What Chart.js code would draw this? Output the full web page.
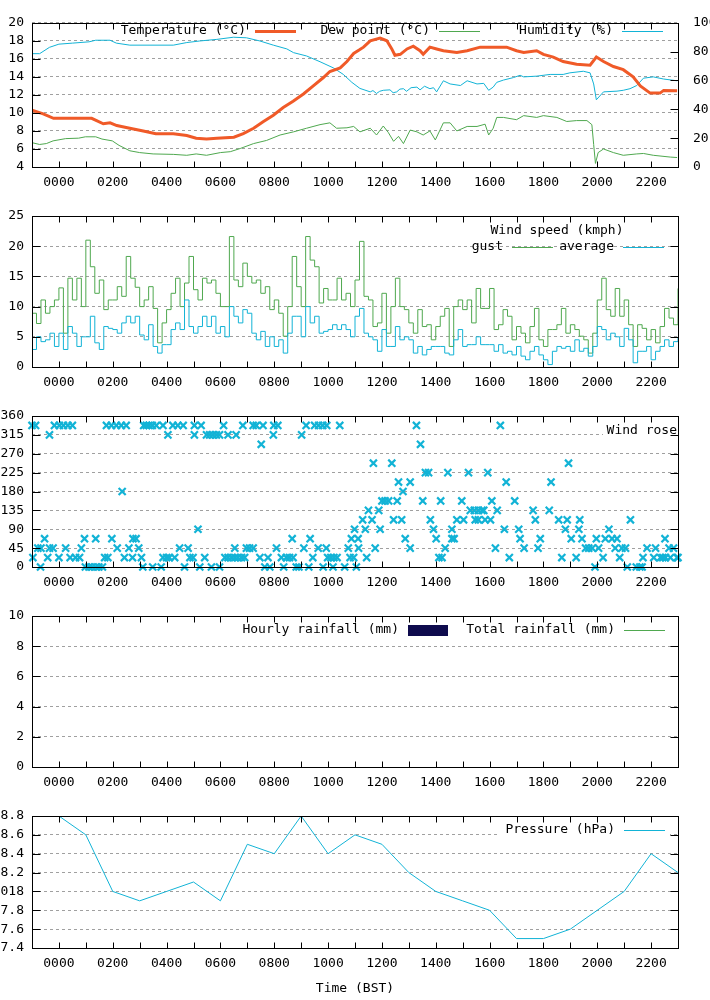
<!DOCTYPE html>
<html>
<head>
<meta charset="utf-8">
<script src="https://cdn.jsdelivr.net/npm/chart.js@4.4.1/dist/chart.umd.min.js"></script>
<style>
  body { margin: 0; background: #fff; }
  #wrap { position: relative; width: 710px; height: 1000px; overflow: hidden; }
  #wrap canvas { position: absolute; left: 0; }
</style>
</head>
<body>
<div id="wrap">
  <canvas id="tempChart" width="710" height="200" style="top:0px"></canvas>
  <canvas id="windChart" width="710" height="200" style="top:200px"></canvas>
  <canvas id="roseChart" width="710" height="200" style="top:400px"></canvas>
  <canvas id="rainChart" width="710" height="200" style="top:600px"></canvas>
  <canvas id="pressChart" width="710" height="200" style="top:800px"></canvas>
</div>
<script>
// time is in minutes from 00:00 BST; the plots start at 23:00 the day before
const hourTicks = [0, 120, 240, 360, 480, 600, 720, 840, 960, 1080, 1200, 1320];
const hourLabels = ["0000", "0200", "0400", "0600", "0800", "1000", "1200", "1400", "1600", "1800", "2000", "2200"];
const xTickMinutes = [0, 60, 120, 180, 240, 300, 360, 420, 480, 540, 600, 660, 720, 780, 840, 900, 960, 1020, 1080, 1140, 1200, 1260, 1320];

// [minute, °C]
const temperature = [
  [-60, 10.3], [-35, 9.9], [-12, 9.4], [73, 9.4], [99, 8.8], [114, 8.9], [129, 8.6], [158, 8.3], [188, 8.0], [216, 7.7],
  [255, 7.7], [285, 7.5], [306, 7.2], [329, 7.1], [352, 7.2], [390, 7.3], [411, 7.7], [434, 8.3], [456, 9.05], [478, 9.75],
  [500, 10.6], [522, 11.3], [545, 12.1], [567, 13.0], [589, 13.9], [604, 14.6], [627, 15.0], [642, 15.7], [657, 16.6], [670, 17.0],
  [679, 17.3], [694, 18.0], [716, 18.3], [731, 18.0], [742, 17.1], [749, 16.4], [761, 16.5], [776, 17.1], [790, 17.4], [805, 16.9],
  [812, 16.5], [827, 17.3], [842, 17.1], [857, 16.9], [887, 16.7], [910, 16.9], [939, 17.3], [968, 17.3], [998, 17.3], [1020, 16.9],
  [1036, 16.7], [1065, 16.9], [1080, 16.5], [1102, 16.2], [1124, 15.7], [1154, 15.4], [1184, 15.3], [1198, 16.2], [1214, 15.7], [1236, 15.15],
  [1258, 14.8], [1280, 14.0], [1296, 13.0], [1318, 12.2], [1340, 12.2], [1348, 12.5], [1378, 12.45]
];

// [minute, °C]
const dewPoint = [
  [-60, 6.7], [-43, 6.5], [-28, 6.6], [-13, 6.9], [15, 7.15], [44, 7.2], [59, 7.35], [82, 7.35], [96, 7.1], [119, 6.9],
  [134, 6.4], [158, 5.8], [180, 5.6], [210, 5.45], [255, 5.4], [285, 5.3], [306, 5.45], [329, 5.3], [360, 5.6], [382, 5.7],
  [404, 6.05], [434, 6.6], [463, 6.95], [493, 7.55], [523, 7.9], [552, 8.3], [582, 8.7], [604, 8.9], [619, 8.3], [642, 8.35],
  [657, 8.5], [671, 7.9], [694, 8.3], [708, 7.55], [723, 8.55], [734, 7.85], [746, 6.85], [757, 7.4], [768, 6.6], [783, 8.1],
  [798, 7.9], [812, 7.55], [827, 8.0], [839, 7.0], [857, 8.9], [872, 8.9], [887, 8.0], [910, 8.5], [932, 8.5], [950, 8.75],
  [958, 7.55], [968, 8.3], [976, 9.5], [991, 9.5], [1020, 9.25], [1036, 9.7], [1065, 9.5], [1080, 9.7], [1110, 9.5], [1132, 9.05],
  [1154, 9.15], [1177, 9.15], [1188, 8.7], [1192, 6.5], [1196, 4.4], [1202, 5.6], [1214, 6.0], [1236, 5.6], [1258, 5.3], [1288, 5.45],
  [1303, 5.5], [1325, 5.3], [1363, 5.1], [1378, 5.05]
];

// [minute, %]
const humidity = [
  [-60, 78.6], [-43, 78.6], [-21, 83], [0, 85.2], [30, 85.9], [67, 86.8], [82, 87.9], [114, 87.9], [128, 85.9], [158, 84.5],
  [255, 84.5], [285, 86.3], [314, 87.4], [352, 88.5], [389, 90], [418, 89.6], [448, 87.4], [478, 84.5], [508, 81.9], [523, 79.3],
  [552, 77], [582, 73], [612, 68.7], [634, 64.2], [653, 58.7], [671, 54.5], [694, 52.1], [700, 53], [708, 51], [715, 52.5],
  [723, 53.2], [738, 53.5], [745, 51.5], [753, 52.1], [760, 54], [768, 54.3], [775, 52.5], [785, 55], [798, 55.4], [805, 53.5],
  [815, 56], [827, 54.3], [835, 55], [842, 52.1], [857, 59.8], [872, 57.6], [895, 56.5], [910, 59.8], [932, 57.6], [947, 58],
  [958, 53.2], [968, 55.4], [976, 58.7], [991, 60.3], [1013, 62], [1028, 63.6], [1036, 62.5], [1065, 63], [1095, 64.2], [1124, 64.2],
  [1139, 65.3], [1169, 66.4], [1184, 65.3], [1192, 57.6], [1198, 46.6], [1214, 52.1], [1244, 52.6], [1258, 53.2], [1273, 54.3], [1288, 56.5],
  [1303, 61.6], [1325, 62.5], [1348, 61], [1378, 59.8]
];

// wind samples every 10 minutes
const windMinutes = [
  -60, -50, -40, -30, -20, -10, 0, 10, 20, 30, 40, 50,
  60, 70, 80, 90, 100, 110, 120, 130, 140, 150, 160, 170,
  180, 190, 200, 210, 220, 230, 240, 250, 260, 270, 280, 290,
  300, 310, 320, 330, 340, 350, 360, 370, 380, 390, 400, 410,
  420, 430, 440, 450, 460, 470, 480, 490, 500, 510, 520, 530,
  540, 550, 560, 570, 580, 590, 600, 610, 620, 630, 640, 650,
  660, 670, 680, 690, 700, 710, 720, 730, 740, 750, 760, 770,
  780, 790, 800, 810, 820, 830, 840, 850, 860, 870, 880, 890,
  900, 910, 920, 930, 940, 950, 960, 970, 980, 990, 1000, 1010,
  1020, 1030, 1040, 1050, 1060, 1070, 1080, 1090, 1100, 1110, 1120, 1130,
  1140, 1150, 1160, 1170, 1180, 1190, 1200, 1210, 1220, 1230, 1240, 1250,
  1260, 1270, 1280, 1290, 1300, 1310, 1320, 1330, 1340, 1350, 1360, 1370,
  1380
];
const windGust = [
  8.9, 7.2, 11.1, 8.9, 10.0, 11.1, 13.1, 5.6, 14.7, 11.1, 14.7, 10.0,
  21.0, 16.6, 12.2, 14.4, 9.5, 11.1, 11.1, 13.3, 11.7, 18.3, 14.7, 13.2,
  10.0, 11.1, 13.3, 9.7, 4.0, 7.3, 9.5, 12.2, 14.7, 10.0, 13.9, 18.3,
  12.8, 11.1, 14.7, 13.9, 14.4, 12.2, 10.0, 10.0, 21.6, 14.4, 13.3, 17.2,
  15.0, 13.9, 14.4, 12.2, 13.3, 9.5, 11.1, 8.9, 5.1, 10.0, 18.3, 13.3,
  10.0, 21.6, 17.7, 16.6, 10.6, 13.0, 11.1, 11.1, 14.7, 11.1, 12.2, 10.0,
  14.4, 20.8, 11.7, 11.1, 6.7, 7.3, 12.2, 5.6, 10.0, 14.7, 10.0, 9.5,
  7.3, 5.6, 9.5, 6.7, 7.0, 4.5, 6.7, 8.4, 9.7, 3.4, 10.0, 11.1,
  9.5, 11.1, 7.3, 13.0, 9.7, 9.7, 13.0, 6.2, 7.0, 9.5, 8.4, 4.5,
  6.7, 5.6, 4.0, 6.7, 9.7, 4.5, 3.4, 6.2, 6.2, 7.0, 9.7, 5.6,
  7.0, 6.2, 5.1, 4.5, 2.3, 5.6, 11.1, 14.7, 9.5, 8.4, 13.0, 8.4,
  11.1, 7.0, 3.4, 7.0, 6.4, 4.5, 6.2, 4.0, 6.7, 9.7, 8.1, 7.0,
  13.0
];
const windAverage = [
  2.9, 5.0, 4.2, 4.5, 5.6, 3.4, 5.6, 2.9, 6.7, 5.6, 3.4, 5.0,
  5.0, 8.4, 4.0, 2.9, 6.7, 6.4, 6.2, 5.6, 7.3, 8.4, 7.3, 8.4,
  5.3, 4.5, 7.0, 3.4, 2.3, 3.7, 3.7, 6.2, 7.3, 6.2, 11.1, 6.7,
  5.6, 6.7, 8.4, 6.7, 8.4, 5.6, 6.7, 5.0, 10.0, 8.4, 7.3, 9.5,
  8.9, 5.6, 4.5, 5.9, 3.4, 5.0, 3.4, 4.5, 2.3, 5.6, 8.4, 8.4,
  5.0, 10.0, 7.3, 8.4, 5.6, 5.9, 6.2, 7.0, 6.2, 7.0, 6.2, 5.0,
  8.4, 9.7, 5.6, 5.0, 4.5, 2.6, 6.2, 3.4, 3.4, 6.7, 4.5, 5.0,
  4.5, 2.3, 3.4, 2.0, 2.9, 3.4, 3.4, 3.4, 2.3, 2.0, 4.5, 6.2,
  3.4, 3.7, 3.7, 5.0, 3.7, 3.7, 3.7, 2.6, 3.7, 2.3, 2.6, 2.0,
  3.4, 1.8, 1.2, 2.6, 3.4, 2.0, 1.2, 0.4, 2.6, 3.4, 3.1, 3.4,
  2.6, 4.5, 2.6, 3.1, 1.8, 3.4, 6.7, 6.2, 4.5, 5.6, 5.0, 3.4,
  6.4, 4.5, 0.7, 2.6, 2.6, 3.4, 1.2, 2.6, 3.4, 4.5, 3.4, 4.2,
  5.0
];

// [minute, direction in degrees]
const windRose = [
  [-60, 337.5], [-52, 337.5], [-58, 22.5], [-47, 45], [-40, 45], [-41, 0], [-32, 67.5], [-25, 22.5], [-21, 315], [-21, 45],
  [-13, 45], [-10, 337.5], [1, 337.5], [0, 22.5], [10, 337.5], [15, 45], [20, 337.5], [25, 22.5], [30, 337.5], [37, 22.5],
  [46, 22.5], [50, 45], [57, 67.5], [59, 0], [67, 0], [74, 0], [82, 0], [89, 0], [97, 0], [82, 67.5],
  [102, 22.5], [106, 337.5], [117, 337.5], [128, 337.5], [139, 337.5], [150, 337.5], [109, 22.5], [118, 67.5], [130, 45], [141, 180],
  [146, 22.5], [156, 45], [164, 22.5], [165, 67.5], [172, 67.5], [178, 45], [184, 22.5], [187, 0], [189, 337.5], [195, 337.5],
  [201, 337.5], [208, 337.5], [217, 337.5], [232, 337.5], [209, 0], [228, 0], [232, 22.5], [240, 22.5], [246, 22.5], [243, 315],
  [254, 337.5], [265, 337.5], [277, 337.5], [258, 22.5], [269, 45], [280, 0], [288, 45], [292, 22.5], [299, 22.5], [302, 337.5],
  [302, 315], [310, 90], [314, 0], [317, 337.5], [325, 22.5], [329, 315], [336, 315], [343, 315], [351, 315], [358, 315],
  [340, 0], [358, 0], [367, 337.5], [370, 22.5], [377, 22.5], [385, 22.5], [392, 22.5], [399, 22.5], [407, 22.5], [414, 22.5],
  [377, 315], [392, 45], [395, 315], [410, 337.5], [418, 45], [425, 45], [433, 45], [433, 337.5], [440, 337.5], [455, 337.5],
  [451, 292.5], [448, 22.5], [459, 0], [466, 22.5], [470, 0], [478, 315], [479, 337.5], [488, 337.5], [485, 45], [496, 22.5],
  [501, 0], [507, 22.5], [514, 22.5], [522, 22.5], [520, 67.5], [529, 0], [535, 0], [541, 315], [546, 45], [551, 337.5],
  [557, 0], [560, 67.5], [566, 22.5], [570, 337.5], [579, 337.5], [588, 337.5], [597, 337.5], [578, 45], [589, 0], [596, 45],
  [599, 22.5], [606, 22.5], [613, 22.5], [620, 22.5], [611, 0], [626, 337.5], [637, 0], [645, 45], [649, 22.5], [652, 67.5],
  [659, 90], [663, 0], [667, 67.5], [657, 22.5], [668, 45], [677, 112.5], [683, 90], [686, 22.5], [690, 135], [698, 112.5],
  [701, 247.5], [705, 45], [713, 135], [716, 90], [720, 157.5], [727, 157.5], [735, 157.5], [742, 247.5], [746, 112.5], [754, 157.5],
  [757, 202.5], [764, 112.5], [767, 180], [772, 67.5], [783, 45], [783, 202.5], [797, 337.5], [806, 292.5], [811, 157.5], [817, 225],
  [824, 225], [828, 112.5], [835, 90], [841, 67.5], [847, 22.5], [851, 157.5], [854, 22.5], [861, 45], [867, 225], [876, 90],
  [876, 67.5], [881, 67.5], [887, 112.5], [898, 157.5], [902, 112.5], [913, 225], [917, 135], [926, 135], [928, 112.5], [935, 135],
  [935, 112.5], [943, 135], [947, 135], [950, 112.5], [956, 225], [962, 112.5], [965, 157.5], [973, 45], [977, 135], [984, 337.5],
  [993, 90], [997, 202.5], [1004, 22.5], [1016, 157.5], [1025, 90], [1028, 67.5], [1037, 45], [1057, 135], [1062, 112.5], [1068, 45],
  [1073, 67.5], [1093, 135], [1097, 202.5], [1114, 112.5], [1121, 22.5], [1129, 90], [1133, 112.5], [1136, 247.5], [1142, 67.5], [1153, 22.5],
  [1159, 90], [1161, 112.5], [1166, 67.5], [1174, 45], [1181, 45], [1189, 45], [1195, 0], [1198, 67.5], [1203, 45], [1213, 22.5],
  [1218, 67.5], [1226, 90], [1233, 67.5], [1240, 45], [1244, 67.5], [1250, 22.5], [1255, 45], [1263, 45], [1267, 0], [1274, 112.5],
  [1287, 0], [1295, 0], [1300, 0], [1302, 22.5], [1311, 45], [1326, 22.5], [1330, 45], [1341, 22.5], [1346, 22.5], [1351, 67.5],
  [1352, 22.5], [1360, 45], [1363, 22.5], [1370, 45], [1378, 22.5], [1380, 22.5]
];

// no rain fell
const rainHourly = [];
const rainTotal = [];

const pressureMinutes = [0, 60, 120, 180, 240, 300, 360, 420, 480, 540, 600, 660, 720, 780, 840, 900, 960, 1020, 1080, 1140, 1200, 1260, 1320, 1380];
const pressure = [1018.8, 1018.6, 1018.0, 1017.9, 1018.0, 1018.1, 1017.9, 1018.5, 1018.4, 1018.8, 1018.4, 1018.6,
                  1018.5, 1018.2, 1018.0, 1017.9, 1017.8, 1017.5, 1017.5, 1017.6, 1017.8, 1018.0, 1018.4, 1018.2];
const pressureTicks = [1017.4, 1017.6, 1017.8, 1018.0, 1018.2, 1018.4, 1018.6, 1018.8];
const pressureTickLabels = ["7.4", "7.6", "7.8", "018", "8.2", "8.4", "8.6", "8.8"];

const ORANGE = "#f05a28";
const GREEN = "#4fa84f";
const CYAN = "#12b3d6";
const NAVY = "#0e0b4d";
const GRID = "#a0a0a0";
const FONT = "13px 'DejaVu Sans Mono'";

Chart.defaults.font.family = "'DejaVu Sans Mono', monospace";
Chart.defaults.font.size = 13;
Chart.defaults.color = "#000";

const pairs = (rows) => rows.map(([x, y]) => ({ x, y }));

function xAxis(height, title) {
  return {
    type: "linear",
    position: "bottom",
    min: -60,
    max: 1380,
    grid: { display: false, drawTicks: false },
    border: { display: false },
    afterBuildTicks: (s) => { s.ticks = hourTicks.map((v) => ({ value: v })); },
    afterFit: (s) => { s.height = height; },
    ticks: { padding: 8, maxRotation: 0, autoSkip: false, callback: (v, i) => hourLabels[i] },
    title: title ? { display: true, text: title, padding: { top: 0, bottom: 4 } } : { display: false },
  };
}

function yAxis(min, max, step, extra = {}) {
  return Object.assign({
    type: "linear",
    position: "left",
    min, max,
    grid: { color: GRID, drawTicks: false },
    border: { display: false, dash: [3, 3] },
    afterFit: (s) => { s.width = 32; },
    ticks: { stepSize: step, padding: 8, autoSkip: false },
  }, extra);
}

// gnuplot-like frame: inward tick marks, black border and an opaque key
const framePlugin = {
  id: "frame",
  beforeDatasetsDraw(chart, args, opts) {
    if (!opts.keyBox) return;
    const ctx = chart.ctx;
    ctx.save();
    ctx.fillStyle = "#fff";
    ctx.fillRect(...opts.keyBox);
    ctx.restore();
  },
  afterDatasetsDraw(chart, args, opts) {
    const { ctx, chartArea: a, scales } = chart;
    const L = Math.round(a.left) + 0.5, R = Math.round(a.right) + 0.5;
    const T = Math.round(a.top) + 0.5, B = Math.round(a.bottom) + 0.5;
    ctx.save();
    ctx.strokeStyle = "#000";
    ctx.lineWidth = 1;
    ctx.beginPath();
    xTickMinutes.forEach((m) => {
      const px = Math.round(scales.x.getPixelForValue(m)) + 0.5;
      ctx.moveTo(px, B); ctx.lineTo(px, B - 6);
      ctx.moveTo(px, T); ctx.lineTo(px, T + 6);
    });
    scales.y.ticks.forEach((t) => {
      const py = Math.round(scales.y.getPixelForValue(t.value)) + 0.5;
      ctx.moveTo(L, py); ctx.lineTo(L + 8, py);
      if (!scales.y2) { ctx.moveTo(R, py); ctx.lineTo(R - 8, py); }
    });
    if (scales.y2) {
      scales.y2.ticks.forEach((t) => {
        const py = Math.round(scales.y2.getPixelForValue(t.value)) + 0.5;
        ctx.moveTo(R, py); ctx.lineTo(R - 8, py);
      });
    }
    ctx.stroke();
    ctx.strokeRect(L, T, R - L, B - T);

    ctx.font = FONT;
    ctx.textBaseline = "middle";
    if (opts.title) {
      ctx.fillStyle = "#000";
      ctx.textAlign = "center";
      ctx.fillText(opts.title.text, opts.title.x, opts.title.y);
    }
    (opts.items || []).forEach((it) => {
      ctx.fillStyle = "#000";
      ctx.textAlign = "right";
      ctx.fillText(it.text, it.sx - 9, it.y);
      if (it.kind === "line") {
        ctx.strokeStyle = it.color;
        ctx.lineWidth = it.lw || 1;
        ctx.beginPath();
        ctx.moveTo(it.sx, it.y + 0.5);
        ctx.lineTo(it.sx + 41, it.y + 0.5);
        ctx.stroke();
      } else if (it.kind === "box") {
        ctx.fillStyle = it.color;
        ctx.fillRect(it.sx, it.y - 5, 40, 11);
      }
    });
    ctx.restore();
  },
};

const baseOptions = (scales, frame, padRight = 32) => ({
  responsive: false,
  animation: false,
  layout: { padding: { top: 16, left: 0, right: padRight, bottom: 0 } },
  scales,
  elements: { point: { radius: 0 }, line: { tension: 0 } },
  plugins: { legend: { display: false }, tooltip: { enabled: false }, frame },
});

new Chart(document.getElementById("tempChart"), {
  type: "line",
  data: {
    datasets: [
      { data: pairs(temperature), borderColor: ORANGE, borderWidth: 3, yAxisID: "y" },
      { data: pairs(dewPoint), borderColor: GREEN, borderWidth: 1, yAxisID: "y" },
      { data: pairs(humidity), borderColor: CYAN, borderWidth: 1, yAxisID: "y2" },
    ],
  },
  options: baseOptions({
    x: xAxis(33),
    y: yAxis(4, 20, 2),
    y2: {
      type: "linear", position: "right", min: 0, max: 100,
      grid: { display: false, drawTicks: false },
      border: { display: false },
      afterFit: (s) => { s.width = 32; },
      ticks: { stepSize: 20, padding: 15, autoSkip: false },
    },
  }, {
    keyBox: [117, 23, 550, 17],
    items: [
      { text: "Temperature (°C)", sx: 255, y: 31, kind: "line", color: ORANGE, lw: 3 },
      { text: "Dew point (°C)", sx: 439, y: 31, kind: "line", color: GREEN },
      { text: "Humidity (%)", sx: 622, y: 31, kind: "line", color: CYAN },
    ],
  }, 0),
  plugins: [framePlugin],
});

new Chart(document.getElementById("windChart"), {
  type: "line",
  data: {
    datasets: [
      { data: windMinutes.map((m, i) => ({ x: m, y: windAverage[i] })), borderColor: CYAN, borderWidth: 1, stepped: true },
      { data: windMinutes.map((m, i) => ({ x: m, y: windGust[i] })), borderColor: GREEN, borderWidth: 1, stepped: true },
    ],
  },
  options: baseOptions({ x: xAxis(33), y: yAxis(0, 25, 5) }, {
    keyBox: [447, 222, 223, 33],
    title: { text: "Wind speed (kmph)", x: 557, y: 31 },
    items: [
      { text: "gust", sx: 512, y: 47, kind: "line", color: GREEN },
      { text: "average", sx: 623, y: 47, kind: "line", color: CYAN },
    ],
  }),
  plugins: [framePlugin],
});

new Chart(document.getElementById("roseChart"), {
  type: "scatter",
  data: {
    datasets: [{
      data: pairs(windRose),
      pointStyle: "crossRot",
      radius: 5,
      borderWidth: 2.2,
      borderColor: CYAN,
      clip: false,
    }],
  },
  options: baseOptions({ x: xAxis(33), y: yAxis(0, 360, 45) }, {
    keyBox: [603, 24, 75, 16],
    items: [{ text: "Wind rose", sx: 686, y: 31, kind: "none" }],
  }),
  plugins: [framePlugin],
});

new Chart(document.getElementById("rainChart"), {
  type: "line",
  data: {
    datasets: [
      { data: pairs(rainHourly), borderColor: NAVY, backgroundColor: NAVY },
      { data: pairs(rainTotal), borderColor: GREEN, borderWidth: 1 },
    ],
  },
  options: baseOptions({ x: xAxis(33), y: yAxis(0, 10, 2) }, {
    items: [
      { text: "Hourly rainfall (mm)", sx: 408, y: 30, kind: "box", color: NAVY },
      { text: "Total rainfall (mm)", sx: 624, y: 30, kind: "line", color: GREEN },
    ],
  }),
  plugins: [framePlugin],
});

new Chart(document.getElementById("pressChart"), {
  type: "line",
  data: {
    datasets: [
      { data: pressureMinutes.map((m, i) => ({ x: m, y: pressure[i] })), borderColor: CYAN, borderWidth: 1 },
    ],
  },
  options: baseOptions({
    x: xAxis(52, "Time (BST)"),
    y: yAxis(1017.4, 1018.8, 0.2, {
      afterBuildTicks: (s) => { s.ticks = pressureTicks.map((v) => ({ value: v })); },
      ticks: { padding: 8, autoSkip: false, callback: (v, i) => pressureTickLabels[i] },
    }),
  }, {
    keyBox: [500, 22, 170, 17],
    items: [{ text: "Pressure (hPa)", sx: 624, y: 30, kind: "line", color: CYAN }],
  }),
  plugins: [framePlugin],
});
</script>
</body>
</html>
